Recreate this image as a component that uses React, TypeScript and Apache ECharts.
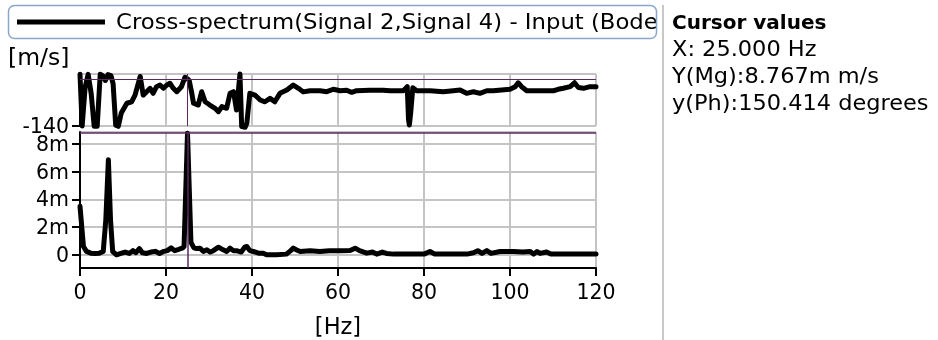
import React, { useEffect, useRef } from "react";
import * as echarts from "echarts";

const FONT = "DejaVu Sans";

const legendTitle = "Cross-spectrum(Signal 2,Signal 4) - Input (Bode";
const cursorTitle = "Cursor values";
const cursorLines = ["X: 25.000 Hz", "Y(Mg):8.767m m/s", "y(Ph):150.414 degrees"];
const yUnit = "[m/s]";
const xUnit = "[Hz]";

const cursorX = 25;
const cursorPhase = 150.414;
const cursorMag = 8.767;

// Phase (degrees) vs frequency (Hz)
const phaseFreq = [
  0, 0.5, 1.2, 1.9, 2.6, 3.3, 4.0, 4.7, 5.3, 5.9, 6.5, 7.2, 7.7, 8.3, 8.9, 9.6,
  10.9, 12.0, 12.8, 14.0, 14.7, 15.5, 16.3, 17.0, 17.8, 18.6, 19.4, 20.2, 20.9,
  21.7, 22.5, 23.6, 24.4, 25.0, 25.4, 26.0, 26.4, 27.5, 28.3, 29.1, 30.2, 31.4,
  32.2, 33.0, 34.1, 34.9, 35.7, 36.4, 37.2, 37.6, 38.4, 38.8, 39.5, 40.7, 41.9,
  43.0, 44.2, 45.3, 46.5, 48.1, 49.6, 50.8, 51.9, 53.5, 55.8, 57.4, 58.9, 60.5,
  62.0, 63.2, 64.3, 67.4, 70.5, 72.1, 75.2, 76.1, 76.4, 76.6, 76.9, 77.4, 78.3,
  81.4, 84.5, 86.8, 88.4, 89.9, 91.5, 93.0, 94.6, 96.1, 100, 101.2, 101.9, 102.7,
  103.9, 107, 110.1, 111.2, 112.4, 114, 115, 115.9, 117.1, 118.6, 120,
];
const phaseDeg = [
  178, -140, 100, 178, 60, -142, -142, 178, 170, 140, 176, 170, 120, -135, -142, -60,
  0, 9, 50, 165, 50, 71, 92, 61, 102, 112, 92, 112, 123,
  92, 71, 102, 160, 150.4, 140, 61, 0, -11, 71, 9, -11, -31,
  -52, -21, -31, 61, 71, -42, 180, -144, -148, -123, 61, 50, 20,
  9, 30, 9, 61, 81, 112, 92, 70, 77, 77, 71, 86, 77,
  80, 67, 77, 80, 80, 77, 77, 102, -100, -134, -60, 95, 77,
  77, 71, 77, 81, 61, 71, 61, 77, 77, 86, 102, 126, 102,
  77, 77, 77, 86, 92, 102, 126, 97, 92, 102, 102,
];

// Magnitude (milli m/s) vs frequency (Hz)
const magFreq = [
  0, 0.8, 1.5, 2.5, 3.5, 4.5, 5.4, 6.0, 6.6, 7.1, 7.6, 8.5, 9.5, 10.5, 11.5, 12.3,
  13.0, 13.8, 14.5, 15.5, 16.5, 17.5, 18.5, 19.5, 20.3, 21.2, 22.0, 23.0, 23.9,
  24.2, 25.0, 25.8, 26.5, 27.1, 27.9, 28.7, 29.5, 30.3, 31.0, 32.2, 33.3, 34.1,
  34.9, 35.7, 36.4, 37.5, 38.3, 38.8, 39.5, 40.3, 41.5, 42.6, 43.4, 45.7, 48.0,
  49.0, 49.6, 50.4, 51.2, 53.5, 55.8, 58, 60.5, 62.8, 64.0, 65.0, 66.7, 68.0,
  69.0, 70.3, 71.3, 72.9, 80, 81.4, 82.5, 90, 91.5, 92.5, 93.5, 94.6, 95.6, 97.7,
  100.8, 103, 104.7, 105.5, 106.3, 107, 108.5, 109.5, 113.2, 120,
];
const magMilli = [
  3.5, 0.6, 0.25, 0.12, 0.1, 0.12, 0.24, 2.5, 6.85, 2.5, 0.24, 0.0, 0.1, 0.2, 0.1, 0.3,
  0.15, 0.45, 0.15, 0.1, 0.2, 0.25, 0.1, 0.25, 0.3, 0.5, 0.3, 0.4, 0.5,
  0.6, 8.767, 0.9, 0.5, 0.45, 0.48, 0.24, 0.36, 0.2, 0.3, 0.55, 0.36, 0.24,
  0.48, 0.3, 0.3, 0.2, 0.55, 0.6, 0.3, 0.24, 0.12, 0.12, 0.0, 0.0, 0.05,
  0.3, 0.48, 0.35, 0.24, 0.3, 0.24, 0.3, 0.3, 0.31, 0.48, 0.3, 0.12, 0.2,
  0.05, 0.2, 0.1, 0.05, 0.05, 0.24, 0.05, 0.05, 0.15, 0.3, 0.1, 0.3, 0.1, 0.24,
  0.24, 0.2, 0.24, 0.05, 0.24, 0.1, 0.2, 0.05, 0.05, 0.05,
];

const xTicks = { min: 0, max: 120, interval: 20 };

export default function App() {
  const ref = useRef<HTMLDivElement>(null);
  useEffect(() => {
    if (!ref.current) return;
    const chart = echarts.init(ref.current, undefined, { renderer: "svg" });
    const grid = "#c4c4c4";
    const purple = "#5a2a5e";
    const phaseData = phaseFreq.map((f, i) => [f, phaseDeg[i]]);
    const magData = magFreq.map((f, i) => [f, magMilli[i]]);
    const labelStyle = { fontSize: 20.5, color: "#000", fontFamily: FONT };
    const textFont = `21px "${FONT}"`;
    chart.setOption({
      animation: false,
      grid: [
        { left: 80, width: 516, top: 74, height: 52 },
        { left: 80, width: 516, top: 132, height: 136 },
      ],
      xAxis: [
        {
          gridIndex: 0, type: "value", ...xTicks,
          axisLabel: { show: false }, axisTick: { show: false }, axisLine: { show: false },
          splitLine: { lineStyle: { color: grid, width: 2 } },
        },
        {
          gridIndex: 1, type: "value", ...xTicks,
          axisLine: { onZero: false, lineStyle: { color: "#000", width: 2 } },
          axisTick: { length: 8, lineStyle: { color: "#000", width: 2 } },
          axisLabel: { ...labelStyle, margin: 13 },
          splitLine: { lineStyle: { color: grid, width: 2 } },
        },
      ],
      yAxis: [
        {
          gridIndex: 0, type: "value", min: -140, max: 180, interval: 320,
          axisLine: { show: true, lineStyle: { color: "#000", width: 2 } },
          axisTick: { show: true, length: 8, lineStyle: { color: "#000", width: 2 } },
          axisLabel: { ...labelStyle, margin: 11, showMaxLabel: false },
          splitLine: { lineStyle: { color: grid, width: 2 } },
        },
        {
          gridIndex: 1, type: "value", min: -0.95, max: 8.85, minInterval: 2, maxInterval: 2,
          axisLine: { show: true, onZero: false, lineStyle: { color: "#000", width: 2 } },
          axisTick: { show: true, length: 8, lineStyle: { color: "#000", width: 2 } },
          axisLabel: {
            ...labelStyle, margin: 11, showMinLabel: false, showMaxLabel: false,
            formatter: (v: number) => (v === 0 ? "0" : `${v}m`),
          },
          splitLine: { lineStyle: { color: grid, width: 2 } },
        },
      ],
      series: [
        {
          type: "line", xAxisIndex: 0, yAxisIndex: 0, data: phaseData, showSymbol: false,
          clip: false,
          lineStyle: { color: "#000", width: 5, join: "round", cap: "round" },
          markLine: {
            silent: true, symbol: ["none", "none"], label: { show: false },
            lineStyle: { color: purple, width: 1, type: "solid" },
            data: [{ xAxis: cursorX }, { yAxis: cursorPhase }],
          },
        },
        {
          type: "line", xAxisIndex: 1, yAxisIndex: 1, data: magData, showSymbol: false,
          clip: false,
          lineStyle: { color: "#000", width: 5, join: "round", cap: "round" },
          markLine: {
            silent: true, symbol: ["none", "none"], label: { show: false },
            lineStyle: { color: purple, width: 1.5, type: "solid" },
            data: [{ xAxis: cursorX }, { yAxis: cursorMag }],
          },
        },
      ],
      graphic: [
        {
          type: "rect", z: 10,
          shape: { x: 8.5, y: 5.5, width: 648, height: 33, r: 6 },
          style: { fill: "#fff", stroke: "none" },
        },
        {
          type: "line", z: 11,
          shape: { x1: 17, y1: 22, x2: 105, y2: 22 },
          style: { stroke: "#000", lineWidth: 5 },
        },
        {
          type: "text", z: 11, x: 116, y: 22, scaleX: 1.11,
          style: { text: legendTitle, font: `20.5px "${FONT}"`, fill: "#000", verticalAlign: "middle" },
        },
        {
          type: "rect", z: 12,
          shape: { x: 657, y: 3, width: 5.5, height: 38 },
          style: { fill: "#fff", stroke: "none" },
        },
        {
          type: "rect", z: 13,
          shape: { x: 8.5, y: 5.5, width: 648, height: 33, r: 6 },
          style: { fill: "none", stroke: "#8aa6c8", lineWidth: 1.5 },
        },
        {
          type: "text", z: 11, x: 8, y: 57,
          style: { text: yUnit, font: `23.5px "${FONT}"`, fill: "#000", verticalAlign: "middle" },
        },
        {
          type: "text", z: 11, x: 338, y: 326,
          style: { text: xUnit, font: `22.5px "${FONT}"`, fill: "#000", align: "center", verticalAlign: "middle" },
        },
        {
          type: "line", z: 14,
          shape: { x1: 663, y1: 5, x2: 663, y2: 340 },
          style: { stroke: "#c8c8c8", lineWidth: 2 },
        },
        {
          type: "text", z: 11, x: 672, y: 22,
          style: { text: cursorTitle, font: `bold 20px "${FONT}"`, fill: "#000", verticalAlign: "middle" },
        },
        ...cursorLines.map((t, i) => ({
          type: "text", z: 11, x: 672, y: 49 + i * 27, scaleX: 1.07,
          style: { text: t, font: textFont, fill: "#000", verticalAlign: "middle" },
        })),
      ],
    });
    return () => chart.dispose();
  }, []);
  return <div ref={ref} style={{ position: "fixed", left: 0, top: 0, width: 938, height: 340 }} />;
}
